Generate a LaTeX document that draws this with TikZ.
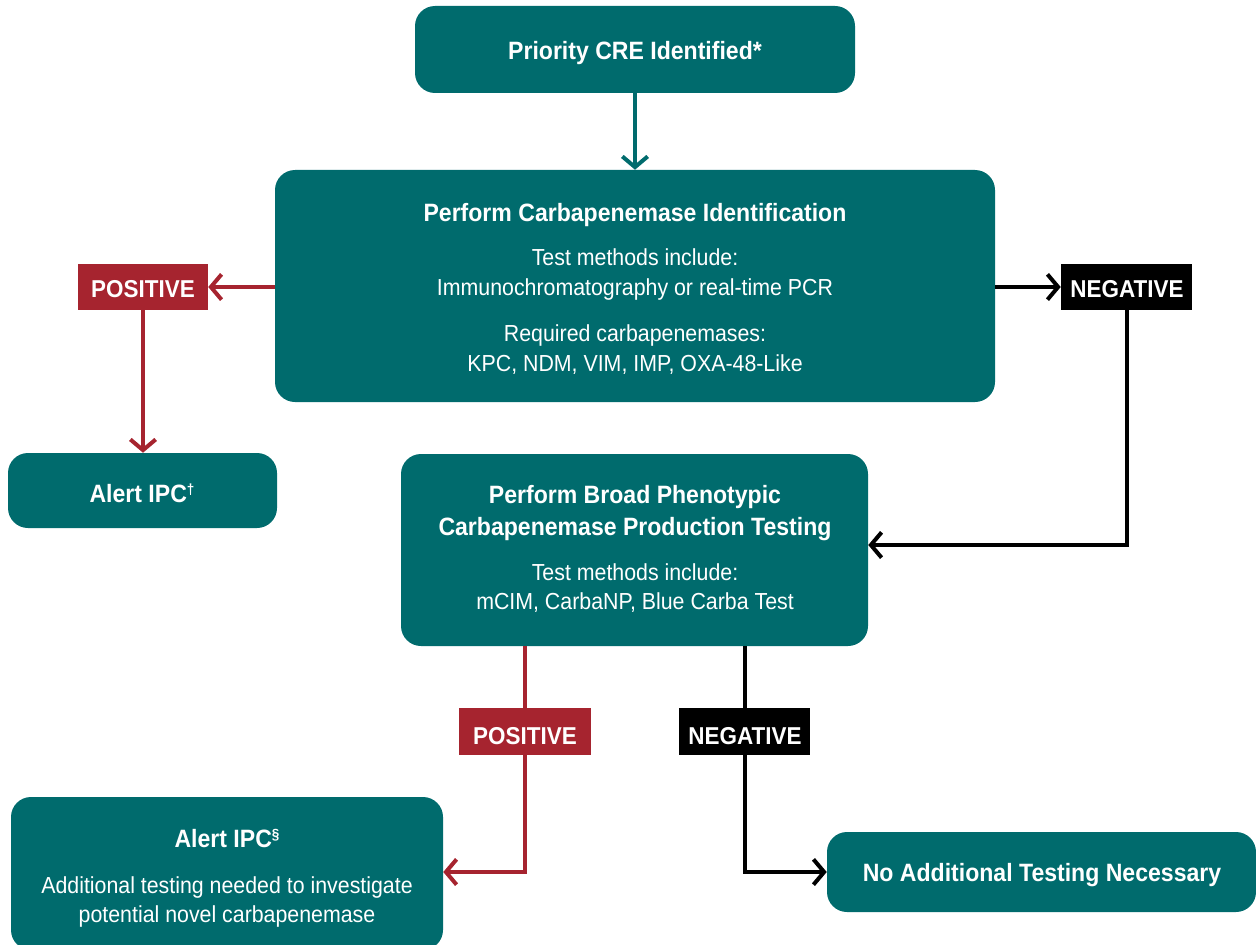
\documentclass[tikz,border=0pt]{standalone}
\usepackage{fontspec}
\setmainfont{Liberation Sans}[FakeStretch=0.92]
\usetikzlibrary{arrows.meta,fit}
\definecolor{cteal}{HTML}{006B6D}
\definecolor{cred}{HTML}{A6242F}
\newcommand{\supmark}[1]{\raisebox{0.55ex}{\fontsize{11}{12}\selectfont #1}}
\begin{document}
\begin{tikzpicture}[x=0.75pt,y=-0.75pt,
  box/.style={fill=cteal, rounded corners=15pt, inner sep=0pt},
  lab/.style={inner sep=0pt},
  title/.style={text=white, font=\fontsize{18.8}{20}\selectfont\bfseries, anchor=base, inner sep=0pt},
  body/.style={text=white, font=\fontsize{17.4}{20}\selectfont, anchor=base, inner sep=0pt},
  tag/.style={text=white, font=\fontsize{18.3}{20}\selectfont\bfseries, anchor=base, inner sep=0pt},
  conn/.style={line width=3pt, -{Straight Barb[length=8pt,width=19pt]}},
  plain/.style={line width=3pt},
]
\useasboundingbox (0,0) rectangle (1256,945);
% boxes
\node[box, fit={(415,6) (855,93)}] (top) {};
\node[box, fit={(275,170) (995,402)}] (big) {};
\node[box, fit={(8,453) (277,528)}] (alert1) {};
\node[box, fit={(401,454) (868,646)}] (box2) {};
\node[box, fit={(11,797) (443,950)}] (alert2) {};
\node[box, fit={(827,832) (1256,912)}] (noadd) {};
% tags
\node[lab, fill=cred, fit={(78,264) (208,310)}] (pos1) {};
\node[lab, fill=black, fit={(1061,264) (1192,310)}] (neg1) {};
\node[lab, fill=cred, fit={(459,708) (591,755)}] (pos2) {};
\node[lab, fill=black, fit={(679,708) (810,755)}] (neg2) {};
\node[tag] (pos1t) at (143,297) {POSITIVE};
\node[tag] (neg1t) at (1127,297) {NEGATIVE};
\node[tag] (pos2t) at (525,744) {POSITIVE};
\node[tag] (neg2t) at (745,744) {NEGATIVE};
% texts
\node[title] (t1) at (635,60) {Priority CRE Identified*};
\node[title] (t2) at (635,221) {Perform Carbapenemase Identification};
\node[body] (t3) at (635,265) {Test methods include:};
\node[body] (t4) at (635,295) {Immunochromatography or real-time PCR};
\node[body] (t5) at (635,341) {Required carbapenemases:};
\node[body] (t6) at (635,371) {KPC, NDM, VIM, IMP, OXA-48-Like};
\node[title] (t7) at (142,502) {Alert IPC\supmark{†}};
\node[title] (t8) at (635,503) {Perform Broad Phenotypic};
\node[title] (t9) at (635,535) {Carbapenemase Production Testing};
\node[body] (t10) at (635,580) {Test methods include:};
\node[body] (t11) at (635,609) {mCIM, CarbaNP, Blue Carba Test};
\node[title] (t12) at (227,847) {Alert IPC\supmark{§}};
\node[body] (t13) at (227,893) {Additional testing needed to investigate};
\node[body] (t14) at (227,922) {potential novel carbapenemase};
\node[title] (t15) at (1042,881) {No Additional Testing Necessary};
% connectors
\coordinate (j1) at (1128,545);
\draw[conn, cteal] (top.south) -- (big.north);
\draw[conn, cred] (big.west |- pos1.east) -- (pos1.east);
\draw[conn, cred] (pos1.south) -- (pos1.south |- alert1.north);
\draw[conn, black] (big.east |- neg1.west) -- (neg1.west);
\draw[conn, black] (neg1.south) |- (box2.east |- j1);
\draw[plain, cred] (box2.south -| pos2.north) -- (pos2.north);
\draw[conn, cred] (pos2.south) |- (alert2.east |- noadd.west);
\draw[plain, black] (box2.south -| neg2.north) -- (neg2.north);
\draw[conn, black] (neg2.south) |- (noadd.west);
\end{tikzpicture}
\end{document}
